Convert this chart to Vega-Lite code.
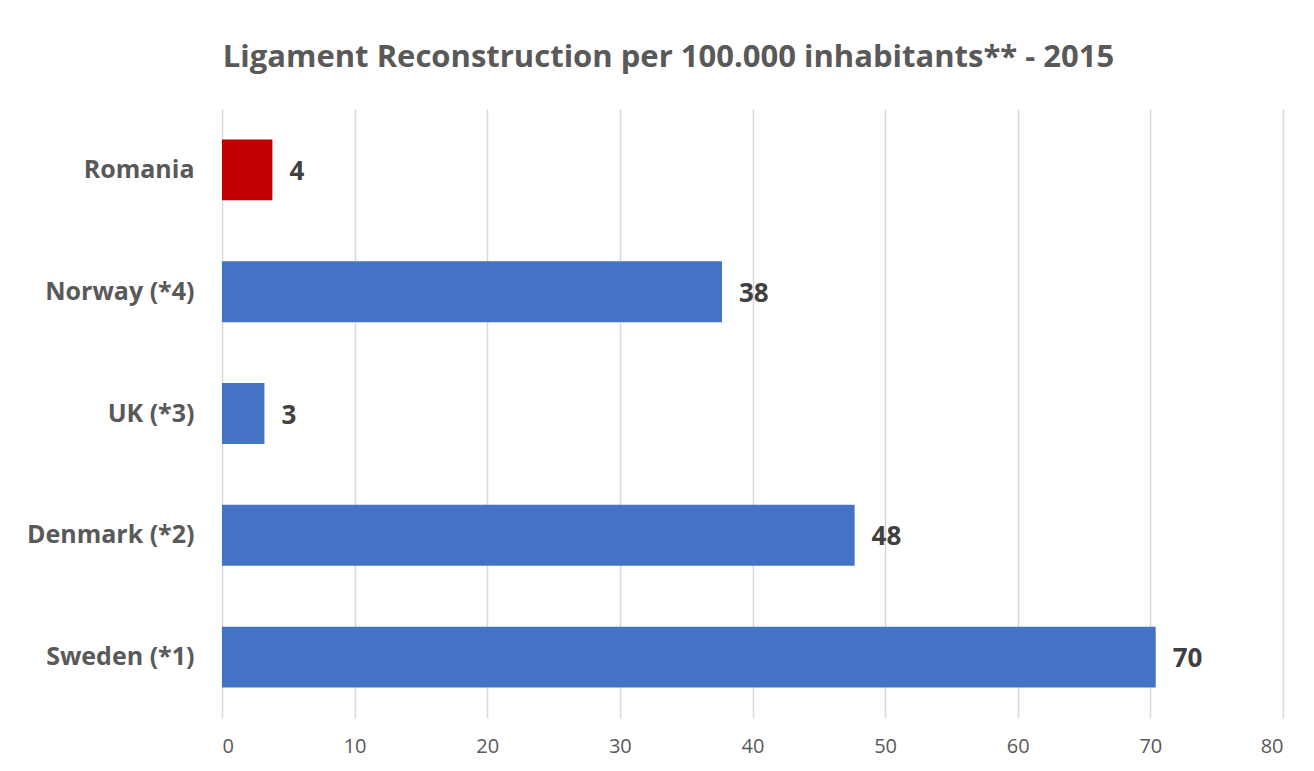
{
  "$schema": "https://vega.github.io/schema/vega-lite/v6.json",
  "width": 1061,
  "height": 609,
  "autosize": "none",
  "padding": {"left": 222, "top": 109, "right": 31, "bottom": 53},
  "background": "white",
  "title": {
    "text": "Ligament Reconstruction per 100.000 inhabitants** - 2015",
    "anchor": "middle",
    "frame": "group",
    "dx": -84,
    "offset": 35,
    "font": "Open Sans",
    "fontSize": 31,
    "fontWeight": "bold",
    "color": "#595959"
  },
  "config": {
    "view": {"stroke": null},
    "font": "Open Sans"
  },
  "data": {
    "values": [
      {"country": "Romania", "value": 3.8, "group": "Romania"},
      {"country": "Norway (*4)", "value": 37.7, "group": "Other"},
      {"country": "UK (*3)", "value": 3.2, "group": "Other"},
      {"country": "Denmark (*2)", "value": 47.7, "group": "Other"},
      {"country": "Sweden (*1)", "value": 70.4, "group": "Other"}
    ]
  },
  "encoding": {
    "y": {
      "field": "country",
      "type": "nominal",
      "sort": ["Romania", "Norway (*4)", "UK (*3)", "Denmark (*2)", "Sweden (*1)"],
      "scale": {"paddingInner": 0.5, "paddingOuter": 0.25},
      "axis": {
        "title": null,
        "domain": false,
        "ticks": false,
        "labelPadding": 28,
        "labelFont": "Open Sans",
        "labelFontSize": 25,
        "labelFontWeight": "bold",
        "labelColor": "#595959"
      }
    },
    "x": {
      "field": "value",
      "type": "quantitative",
      "scale": {"domain": [0, 80], "nice": false},
      "axis": {
        "title": null,
        "values": [0, 10, 20, 30, 40, 50, 60, 70, 80],
        "domain": false,
        "ticks": false,
        "grid": true,
        "gridColor": "#d9d9d9",
        "gridWidth": 1.5,
        "labelPadding": 18,
        "labelFont": "Open Sans",
        "labelFontSize": 20,
        "labelColor": "#595959"
      }
    }
  },
  "layer": [
    {
      "mark": {"type": "bar"},
      "encoding": {
        "color": {
          "field": "group",
          "type": "nominal",
          "scale": {"domain": ["Romania", "Other"], "range": ["#C00000", "#4472C4"]},
          "legend": null
        }
      }
    },
    {
      "mark": {
        "type": "text",
        "align": "left",
        "baseline": "middle",
        "dx": 17,
        "dy": 2,
        "font": "Open Sans",
        "fontSize": 26,
        "fontWeight": "bold",
        "color": "#404040"
      },
      "encoding": {
        "text": {"field": "value", "type": "quantitative", "format": ".0f"}
      }
    }
  ]
}
